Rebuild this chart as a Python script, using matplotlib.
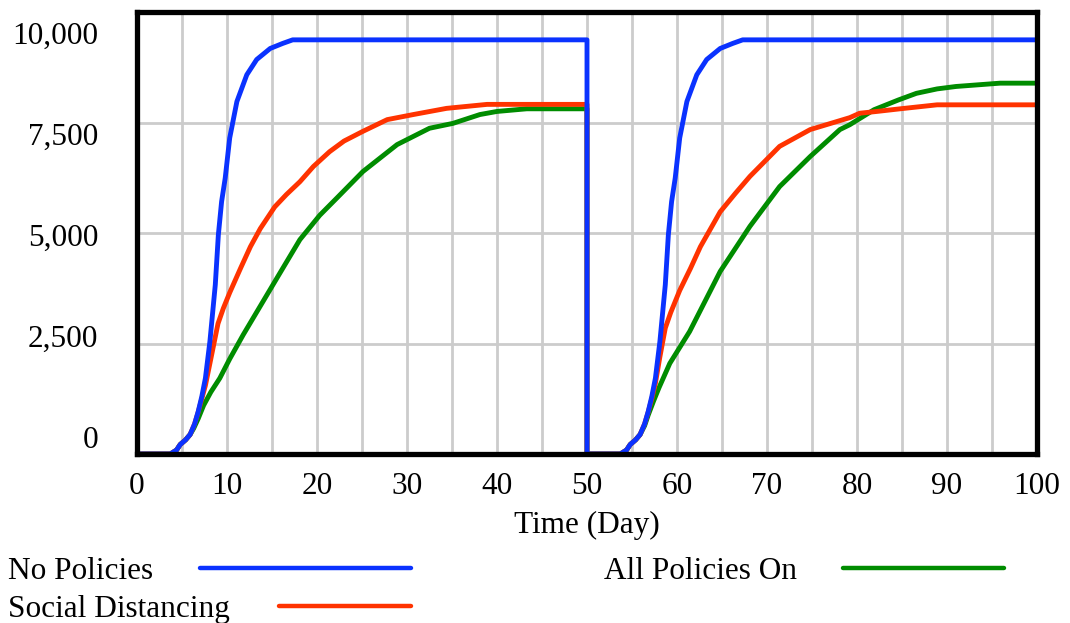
"""Cumulative cases under three policy runs (two 50-day runs back to back)."""
import matplotlib
matplotlib.use("Agg")
import matplotlib.pyplot as plt
from matplotlib.lines import Line2D
import numpy as np

plt.rcParams['font.family'] = ['Liberation Serif', 'DejaVu Serif']

# ---- data ----
# No Policies
t_np = [0, 3.7, 4.4, 4.8, 5.4, 5.9, 6.4, 6.8, 7.2, 7.6, 8.1, 8.7, 9.04, 9.4, 9.8, 10.3, 11.1, 12.2, 13.3, 14.8,
        16.2, 17.3, 50,
        50, 53.7, 54.4, 54.8, 55.4, 55.9, 56.4, 56.8, 57.2, 57.6, 58.1, 58.7, 59.04, 59.4, 59.8, 60.3, 61.1, 62.2,
        63.3, 64.8, 66.2, 67.3, 100]
v_np = [0, 0, 90, 214, 320, 440, 680, 960, 1300, 1715, 2545, 3830, 4960, 5710, 6240, 7150, 7975, 8580, 8925, 9175,
        9290, 9370, 9370,
        0, 0, 90, 214, 320, 440, 680, 960, 1300, 1715, 2545, 3830, 4960, 5710, 6240, 7150, 7975, 8580,
        8925, 9175, 9290, 9370, 9370]

# Social Distancing
t_sd = [0, 3.7, 4.4, 4.8, 5.4, 5.9, 6.4, 6.8, 7.2, 7.6, 8.0, 8.5, 9.0, 9.6, 10.3, 11.5, 12.6, 13.7, 15.3, 16.6,
        18.1, 19.6, 21.4, 23, 25.1, 27.8, 30.7, 34.4, 38.9, 50,
        50, 53.7, 54.4, 54.8, 55.4, 55.9, 56.4, 56.8, 57.2, 57.6, 58.1, 58.7, 59.3, 60.3, 61.5, 62.6, 64.8, 66.5,
        68.1, 71.4, 74.8, 79.2, 80.3, 82.2, 84.8, 88.9, 100]
v_sd = [0, 0, 90, 214, 320, 440, 680, 950, 1250, 1550, 1950, 2450, 2950, 3300, 3650, 4200, 4690, 5100, 5590, 5870,
        6160, 6505, 6840, 7080, 7300, 7565, 7680, 7820, 7910, 7910,
        0, 0, 90, 214, 320, 440, 680, 950, 1250, 1600, 2200, 2850, 3200, 3700, 4200, 4690, 5480, 5900,
        6280, 6960, 7340, 7610, 7710, 7750, 7810, 7900, 7900]

# All Policies On
t_ap = [0, 3.7, 4.4, 4.8, 5.4, 5.9, 6.3, 6.8, 7.4, 8.2, 9.2, 10.3, 11.8, 14, 15.9, 18.1, 20.3, 22.2, 25.1, 28.9,
        32.5, 35.1, 38.1, 40, 43.3, 50,
        50, 53.7, 54.4, 54.8, 55.4, 55.9, 56.4, 56.8, 57.4, 58, 59.2, 61.4, 64.8, 68.1, 71.4, 74.8, 78.1, 79.2,
        81.9, 84.6, 86.6, 88.9, 91, 95.9, 100]
v_ap = [0, 0, 90, 214, 320, 440, 580, 800, 1100, 1400, 1715, 2150, 2697, 3450, 4100, 4850, 5400, 5790, 6390, 7000,
        7370, 7480, 7680, 7750, 7810, 7810,
        0, 0, 90, 214, 320, 440, 640, 880, 1200, 1500, 2050, 2770, 4130, 5150, 6050, 6730, 7340, 7450,
        7790, 8010, 8160, 8260, 8315, 8390, 8390]

y_tick_vals = [0, 2500, 5000, 7500, 10000]
x_tick_vals = list(range(0, 101, 10))

BLUE = '#0A32FF'
RED = '#FF3300'
GREEN = '#008C00'
FS = 22.5

W, H = 1070, 623
fig = plt.figure(figsize=(W / 100, H / 100), dpi=100)
ax = fig.add_axes([137 / W, 1 - 454 / H, 900 / W, (454 - 12) / H])

ax.plot(t_ap, v_ap, color=GREEN, lw=3.5, solid_capstyle='round', zorder=3)
ax.plot(t_sd, v_sd, color=RED, lw=3.5, solid_capstyle='round', zorder=4)
ax.plot(t_np, v_np, color=BLUE, lw=3.5, solid_capstyle='round', zorder=5)

ax.set_xlim(0, 100)
ax.set_ylim(0, 10000)

# grid every 5 days / 2500 units
ax.set_xticks(x_tick_vals)
ax.set_xticklabels([str(v) for v in x_tick_vals], fontsize=FS)
ax.set_xticks(np.arange(5, 100, 10), minor=True)
ax.set_yticks([2500, 5000, 7500], minor=True)
ax.grid(True, which='major', axis='x', color='#CCCCCC', lw=2, zorder=0)
ax.grid(True, which='minor', color='#CCCCCC', lw=2, zorder=0)

# the y labels sit a bit compressed toward the middle, as in the original
ylab_pos = [4955 + (v - 5000) * 0.914 for v in y_tick_vals]
ax.set_yticks(ylab_pos)
ax.set_yticklabels([f'{v:,}' for v in y_tick_vals], fontsize=FS)
ax.grid(False, which='major', axis='y')
ax.tick_params(which='both', length=0)
ax.tick_params(axis='y', pad=28)
ax.tick_params(axis='x', pad=13)

for s in ax.spines.values():
    s.set_linewidth(3.8)
    s.set_color('black')
    s.set_zorder(6)

ax.set_xlabel('Time (Day)', fontsize=FS, labelpad=7)

# ---- legend (Vensim style: text then line) ----
def leg(text, tx, x0, x1, y, color):
    fig.text(tx / W, 1 - y / H, text, fontsize=FS, ha='left', va='baseline')
    fig.add_artist(Line2D([x0 / W, x1 / W], [1 - (y - 11) / H, 1 - (y - 11) / H],
                          color=color, lw=3.2, solid_capstyle='round'))

leg('No Policies', 8, 200, 411, 579, BLUE)
leg('All Policies On', 604, 843, 1004, 579, GREEN)
leg('Social Distancing', 8, 279, 411, 617, RED)

fig.savefig('out.png', dpi=100)
